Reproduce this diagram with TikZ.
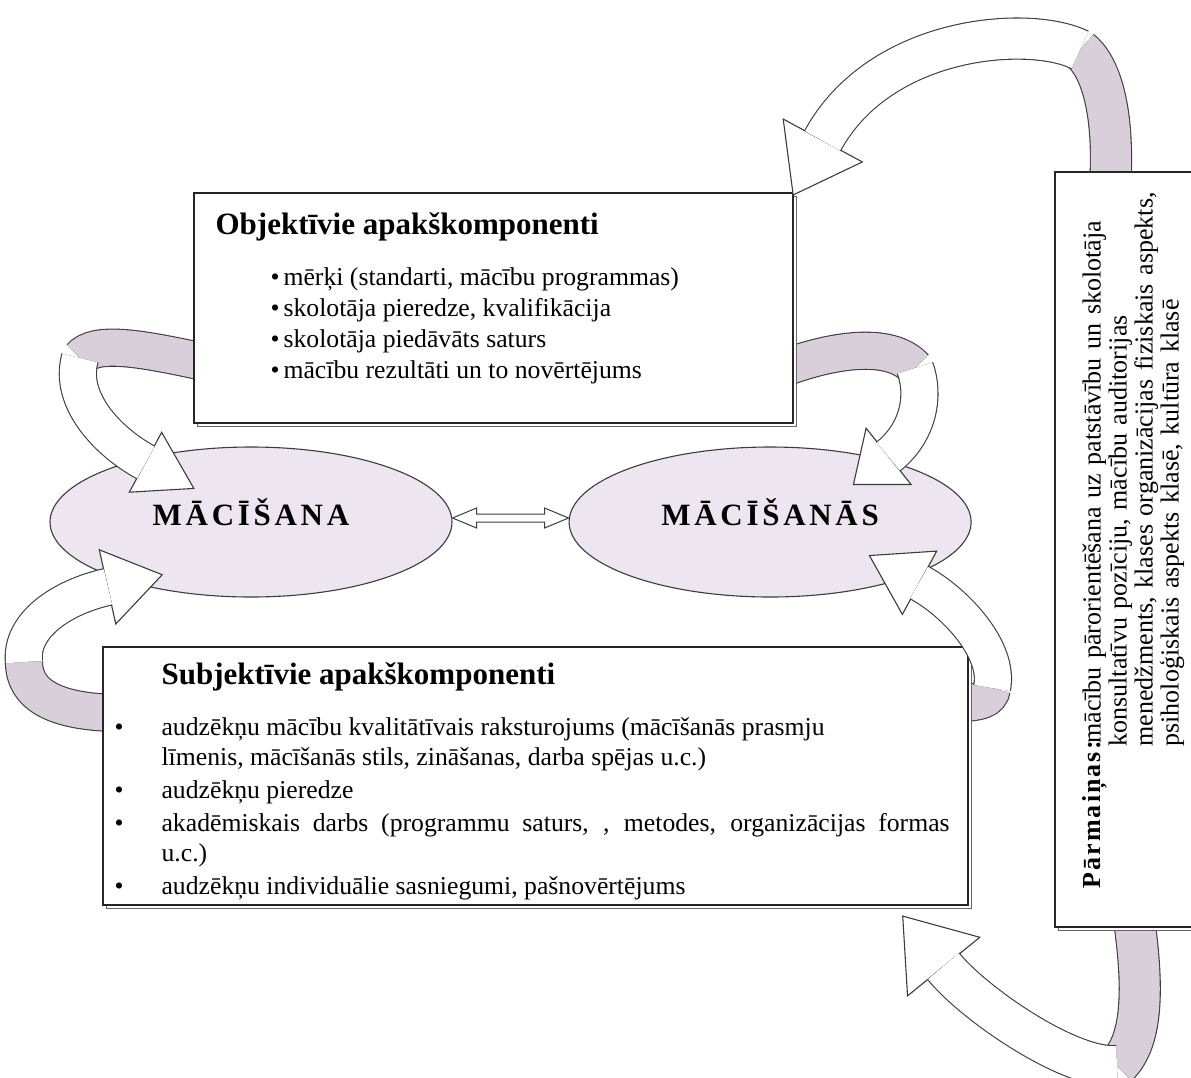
\documentclass[tikz,border=0pt]{standalone}
\usepackage{fontspec}
\setmainfont{Liberation Serif}
\newfontfamily\spacedserif[LetterSpace=12]{Liberation Serif}
\newfontfamily\wideserif[LetterSpace=8]{Liberation Serif}
\usetikzlibrary{positioning,shapes.geometric,shadows,backgrounds}

\definecolor{lilac}{RGB}{237,229,239}
\definecolor{ribbon}{RGB}{216,207,219}
\definecolor{rim}{RGB}{60,60,60}

\newcommand\bul{\hangindent=47pt\hangafter=1\noindent\makebox[47pt][l]{\textbullet}}

\tikzset{
  panel/.style={rectangle, draw=black!85, fill=white, line width=1.2pt, inner sep=0pt,
    copy shadow={shadow xshift=3pt, shadow yshift=-3pt, draw=black!60, fill=white, line width=1pt}},
  phase/.style={ellipse, draw=rim, fill=lilac, line width=1.1pt, inner sep=0pt,
    minimum width=402pt, minimum height=150pt,
    font=\spacedserif\bfseries\fontsize{31}{31}\selectfont, text height=28pt, text depth=22pt},
  heading/.style={font=\bfseries\fontsize{31}{36}\selectfont, inner sep=0pt},
  items/.style={font=\fontsize{25.7}{31}\selectfont, inner sep=0pt, align=left},
  sublist/.style={font=\fontsize{25.7}{30}\selectfont, inner sep=0pt, text width=835pt, align=justify},
  note/.style={font=\fontsize{26}{26}\selectfont, inner sep=0pt, text width=730pt, align=left},
  band/.style={draw=rim, line width=1.1pt, double=ribbon},
  shaft/.style={draw=rim, line width=1.1pt, double=white, shorten >=-1pt},
  tip/.style={isosceles triangle, isosceles triangle stretches, draw=rim, fill=white,
    line width=1.1pt, inner sep=0pt, pos=1, sloped, allow upside down, anchor=lower side},
  twin/.style={draw=rim, fill=white, line width=1pt}
}

\begin{document}
\begin{tikzpicture}[x=1pt, y=-1pt]
  \useasboundingbox (0,0) rectangle (1191,1077);

  \node[panel, minimum width=599pt, minimum height=230pt] (obj) at (493.5,308) {};
  \node[heading, anchor=base west] (objtitle) at ([shift={(22,42)}]obj.north west) {Objektīvie apakškomponenti};
  \node[items, anchor=north west] (objitems) at ([shift={(77,75)}]obj.north west)
    {\textbullet\hspace{4pt}mērķi (standarti, mācību programmas)\\
     \textbullet\hspace{4pt}skolotāja pieredze, kvalifikācija\\
     \textbullet\hspace{4pt}skolotāja piedāvāts saturs\\
     \textbullet\hspace{4pt}mācību rezultāti un to novērtējums};

  \node[phase] (teach) at (251,522) {MĀCĪŠANA};
  \node[phase, right=116pt of teach] (learn) {MĀCĪŠANĀS};

  \node[panel, minimum width=865pt, minimum height=258pt] (subj) at (535.5,776) {};
  \node[heading, anchor=base west] (subjtitle) at ([shift={(59,38)}]subj.north west) {Subjektīvie apakškomponenti};
  \node[sublist, anchor=north west] (subjitems) at ([shift={(12,71)}]subj.north west)
    {\parskip=3pt\hyphenpenalty=10000
     \bul audzēkņu mācību kvalitātīvais raksturojums (mācīšanās prasmju\\
     līmenis, mācīšanās stils, zināšanas, darba spējas u.c.)\par
     \bul audzēkņu pieredze\par
     \bul akadēmiskais darbs (programmu saturs, , metodes, organizācijas formas\linebreak
     u.c.)\par
     \bul audzēkņu individuālie sasniegumi, pašnovērtējums};

  \node[panel, minimum width=145pt, minimum height=755pt] (changes) at (1127.5,549.5) {};
  \node[note, rotate=90, anchor=north west] (changestext) at ([shift={(28,-39)}]changes.south west)
    {\makebox[136pt][l]{\wideserif\bfseries Pārmaiņas:} mācību pārorientēšana uz patstāvību un skolotāja\\
     \hspace*{142pt}konsultatīvu pozīciju, mācību auditorijas\\
     \hspace*{142pt}menedžments, klases organizācijas fiziskais aspekts,\\
     \hspace*{142pt}psiholoģiskais aspekts klasē, kultūra klasē};

  \coordinate (tltwist) at (80,358);
  \coordinate (tlend) at (145,462);
  \coordinate (bltwist) at (24,662);
  \coordinate (blend) at (107,587);
  \coordinate (trtwist) at (915,368);
  \coordinate (trend) at (889,456);
  \coordinate (brtwist) at (992,688);
  \coordinate (brend) at (920,583);
  \coordinate (rttwist) at (1080,50);
  \coordinate (rtend) at (823,140);
  \coordinate (rbtwist) at (1117,1066);
  \coordinate (rbend) at (944,967);

  \begin{scope}[on background layer]
    \draw[band, double distance=36pt] ([shift={(15,55)}]obj.west) .. controls (140,348) and (95,340) .. (tltwist);
    \draw[band, double distance=36pt] ([shift={(15,-63)}]subj.west) .. controls (55,712) and (24,695) .. (bltwist);
    \draw[band, double distance=36pt] ([shift={(-15,62)}]obj.east) .. controls (830,350) and (890,340) .. (trtwist);
    \draw[band, double distance=36pt] ([shift={(-15,-73)}]subj.east) .. controls (980,703) and (990,700) .. (brtwist);
    \draw[band, double distance=40pt] ([shift={(-17.5,15)}]changes.north) .. controls (1115,110) and (1100,65) .. (rttwist);
    \draw[band, double distance=40pt] ([shift={(5.5,-15)}]changes.south) .. controls (1143,980) and (1145,1040) .. (rbtwist);
  \end{scope}

  \path (tltwist) .. controls (68,400) and (108,442) .. (tlend) node[tip, minimum width=68pt, minimum height=55pt] (tlhead) {};
  \draw[shaft, double distance=36pt] (tltwist) .. controls (68,400) and (108,442) .. (tlend);

  \path (bltwist) .. controls (20,625) and (62,597) .. (blend) node[tip, minimum width=76pt, minimum height=56pt] (blhead) {};
  \draw[shaft, double distance=36pt] (bltwist) .. controls (20,625) and (62,597) .. (blend);

  \path (trtwist) .. controls (925,395) and (919,432) .. (trend) node[tip, minimum width=72pt, minimum height=45pt] (trhead) {};
  \draw[shaft, double distance=36pt] (trtwist) .. controls (925,395) and (919,432) .. (trend);

  \path (brtwist) .. controls (1000,650) and (955,602) .. (brend) node[tip, minimum width=72pt, minimum height=57pt] (brhead) {};
  \draw[shaft, double distance=36pt] (brtwist) .. controls (1000,650) and (955,602) .. (brend);

  \path (rttwist) .. controls (1030,25) and (880,35) .. (rtend) node[tip, minimum width=90pt, minimum height=62pt] (rthead) {};
  \draw[shaft, double distance=40pt] (rttwist) .. controls (1030,25) and (880,35) .. (rtend);

  \path (rbtwist) .. controls (1070,1070) and (974,1004) .. (rbend) node[tip, minimum width=93pt, minimum height=65pt] (rbhead) {};
  \draw[shaft, double distance=40pt] (rbtwist) .. controls (1070,1070) and (974,1004) .. (rbend);

  \coordinate (dl) at ([yshift=4pt]teach.east);
  \coordinate (dr) at ([yshift=4pt]learn.west);
  \draw[twin] (dl) -- ++(24,-10) -- ++(0,6) -- ([shift={(-24,-4)}]dr) -- ++(0,-6) -- (dr)
    -- ++(-24,10) -- ++(0,-6) -- ([shift={(24,4)}]dl) -- ++(0,6) -- cycle;
\end{tikzpicture}
\end{document}
